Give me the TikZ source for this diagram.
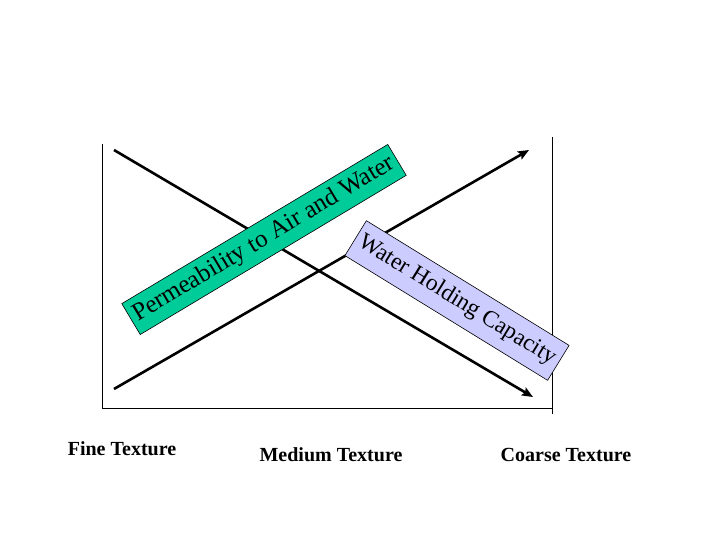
\documentclass[tikz,border=0pt]{standalone}
\usepackage{fontspec}
\setmainfont{Liberation Serif}
\usetikzlibrary{arrows.meta}
\definecolor{boxgreen}{RGB}{0,204,153}
\definecolor{boxblue}{RGB}{204,204,255}
\begin{document}
\begin{tikzpicture}[x=1pt,y=-1pt,
  axis/.style={line width=1pt},
  trend/.style={line width=2.6pt,-{Stealth[length=11pt,width=9pt,inset=2pt]}},
  texlabel/.style={font=\fontsize{20}{24}\selectfont\bfseries, inner sep=0pt},
  band/.style={draw, line width=0.6pt, inner sep=0pt}]
\useasboundingbox (0,0) rectangle (720,540);
\coordinate (lt) at (102,144);
\coordinate (lb) at (102,408);
\coordinate (rb) at (552,408);
\coordinate (rt) at (552,137);
\coordinate (rbot) at (552,414);
\draw[axis] (lt) -- (lb) -- (rb);
\draw[axis] (rt) -- (rbot);
\coordinate (u0) at (114,389);
\coordinate (u1) at (529,150);
\coordinate (d0) at (114,150);
\coordinate (d1) at (533,397);
\draw[trend] (u0) -- (u1);
\draw[trend] (d0) -- (d1);
\node[band, fill=boxgreen, minimum width=310pt, minimum height=36pt, rotate=30.9,
  font=\fontsize{25}{30}\selectfont] (perm) at (264,239.5) {Permeability to Air and Water};
\node[band, fill=boxblue, minimum width=238pt, minimum height=41pt, rotate=-31.6,
  font=\fontsize{23.5}{28}\selectfont] (whc) at (457,300.5) {Water Holding Capacity};
\node[texlabel] (fine) at (122,449) {Fine Texture};
\node[texlabel] (medium) at (331,455) {Medium Texture};
\node[texlabel] (coarse) at (566,455) {Coarse Texture};
\end{tikzpicture}
\end{document}
